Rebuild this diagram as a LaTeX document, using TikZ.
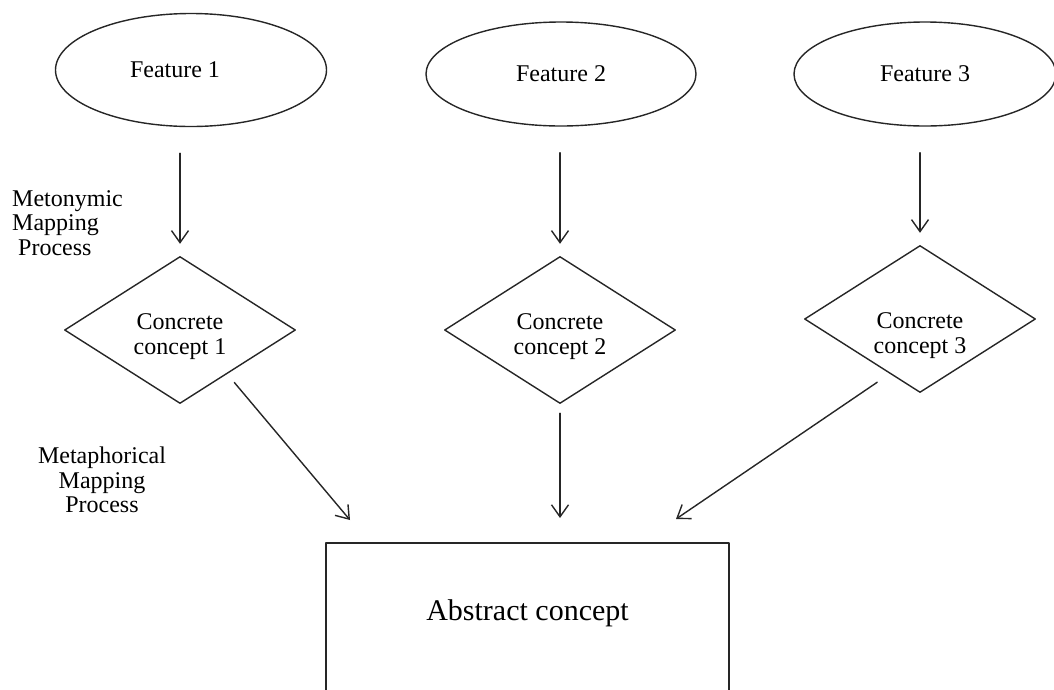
\documentclass[tikz,border=0pt]{standalone}
\usepackage{fontspec}
\setmainfont{Liberation Serif}
\usetikzlibrary{shapes.geometric,arrows.meta}
\begin{document}
\begin{tikzpicture}[x=1pt,y=-1pt,line cap=round,line join=round,
	feat/.style={ellipse,draw=black!85,line width=1.4pt,inner sep=0pt,font=\fontsize{24}{25}\selectfont},
	conc/.style={diamond,draw=black!85,line width=1.4pt,minimum width=231pt,minimum height=147pt,inner sep=0pt},
	ctext/.style={inner sep=0pt,align=center,font=\fontsize{24}{25}\selectfont},
	absbox/.style={rectangle,draw=black!85,line width=1.4pt,minimum width=403pt,minimum height=150pt,inner sep=0pt,font=\fontsize{30}{30}\selectfont},
	map/.style={-{Straight Barb[length=12pt,width=17pt]},line width=1.4pt,draw=black!85},
	lbl/.style={inner sep=0pt,font=\fontsize{24}{24.5}\selectfont}]
	\useasboundingbox (0,0) rectangle (1054,689);
	
	\foreach \i/\fx/\fy/\fw/\fh/\tx/\cx/\cy/\ty in {1/191/70/271/113/-32/180/330/-7, 2/561/74/270/104/0/560/330/-7, 3/925/74/262/104/0/920/319/-17}
	{
		\node[feat,minimum width=\fw pt,minimum height=\fh pt] (f\i) at (\fx,\fy) {\hspace*{\tx pt}Feature \i};
		\node[conc] (c\i) at (\cx,\cy) {};
		\node[ctext] (ct\i) at ([yshift=\ty pt]c\i.center) {Concrete\\concept \i};
		\draw[map,shorten <=26pt,shorten >=12pt] (f\i.south -| c\i.north) -- (c\i.north);
	}
	
	\node[absbox] (abs) at (527.5,618) {\raisebox{5pt}[\height][\depth]{Abstract concept}};
	\coordinate (t1) at (350,520);
	\coordinate (t2) at (560,518);
	\coordinate (t3) at (676,519);
	\draw[map,shorten <=11pt] (c1.-43) -- (t1);
	\draw[map,shorten <=9pt] (c2.south) -- (t2);
	\draw[map,shorten <=15pt] (c3.-119) -- (t3);
	
	\node[lbl,align=left,anchor=north west] (meto) at (12,190) {Metonymic\\Mapping\\\hspace*{6pt}Process};
	\node[lbl,align=center,anchor=north] (meta) at (102,447) {Metaphorical\\Mapping\\Process};
\end{tikzpicture}
\end{document}
